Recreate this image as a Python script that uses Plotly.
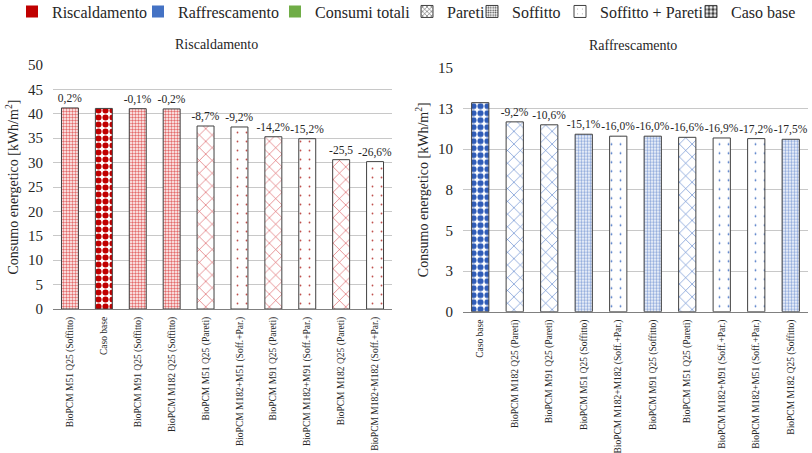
import plotly.graph_objects as go

# ---------------- data ----------------
heat_categories = [
    "BioPCM M51 Q25 (Soffitto)", "Caso base", "BioPCM M91 Q25 (Soffitto)",
    "BioPCM M182 Q25 (Soffitto)", "BioPCM M51 Q25 (Pareti)", "BioPCM M182+M51 (Soff.+Par.)",
    "BioPCM M91 Q25 (Pareti)", "BioPCM M182+M91 (Soff.+Par.)", "BioPCM M182 Q25 (Pareti)",
    "BioPCM M182+M182 (Soff.+Par.)",
]
heat_values = [41.2, 41.1, 41.05, 41.0, 37.5, 37.3, 35.3, 34.9, 30.6, 30.2]
heat_labels = ["0,2%", "", "-0,1%", "-0,2%", "-8,7%", "-9,2%", "-14,2%", "-15,2%", "-25,5", "-26,6%"]
heat_groups = ["Soffitto", "Caso base", "Soffitto", "Soffitto", "Pareti", "Soffitto + Pareti",
               "Pareti", "Soffitto + Pareti", "Pareti", "Soffitto + Pareti"]

cool_categories = [
    "Caso base", "BioPCM M182 Q25 (Pareti)", "BioPCM M91 Q25 (Pareti)",
    "BioPCM M51 Q25 (Soffitto)", "BioPCM M182+M182 (Soff.+Par.)", "BioPCM M91 Q25 (Soffitto)",
    "BioPCM M51 Q25 (Pareti)", "BioPCM M182+M91 (Soff.+Par.)", "BioPCM M182+M51 (Soff.+Par.)",
    "BioPCM M182 Q25 (Soffitto)",
]
cool_values = [12.85, 11.67, 11.49, 10.91, 10.79, 10.79, 10.72, 10.68, 10.64, 10.60]
cool_labels = ["", "-9,2%", "-10,6%", "-15,1%", "-16,0%", "-16,0%", "-16,6%", "-16,9%", "-17,2%", "-17,5%"]
cool_groups = ["Caso base", "Pareti", "Pareti", "Soffitto", "Soffitto + Pareti", "Soffitto",
               "Pareti", "Soffitto + Pareti", "Soffitto + Pareti", "Soffitto"]

left_ticks = [0, 5, 10, 15, 20, 25, 30, 35, 40, 45, 50]
right_tickvals = [0, 2.5, 5, 7.5, 10, 12.5, 15]
right_ticktext = ["0", "3", "5", "8", "10", "13", "15"]

color_legend = ["Riscaldamento", "Raffrescamento", "Consumi totali"]
pattern_legend = ["Pareti", "Soffitto", "Soffitto + Pareti", "Caso base"]

# ---------------- styles ----------------
FONT = '"Liberation Serif", "Times New Roman", Tinos, "DejaVu Serif", serif'
W, H = 812, 453
LINE = "#404040"

heat_style = {
    "Soffitto": dict(shape=".", size=3, solidity=0.5, fg="#E46C6C"),
    "Pareti": dict(shape="x", size=9, solidity=0.12, fg="#D43F45"),
    "Soffitto + Pareti": dict(shape=".", size=9, solidity=0.03, fg="#C0504D"),
    "Caso base": dict(shape=".", size=7, solidity=0.6, fg="#C00000"),
}
cool_style = {
    "Soffitto": dict(shape=".", size=3, solidity=0.5, fg="#8EA9DB"),
    "Pareti": dict(shape="x", size=9, solidity=0.12, fg="#4472C4"),
    "Soffitto + Pareti": dict(shape=".", size=9, solidity=0.03, fg="#4472C4"),
    "Caso base": dict(shape=".", size=7, solidity=0.6, fg="#2F5CB8"),
}


def pattern_for(groups, style):
    return dict(
        shape=[style[g]["shape"] for g in groups],
        size=[style[g]["size"] for g in groups],
        solidity=[style[g]["solidity"] for g in groups],
        fgcolor=[style[g]["fg"] for g in groups],
        bgcolor="white",
        fillmode="replace",
    )


fig = go.Figure()

fig.add_trace(go.Bar(
    x=heat_categories, y=heat_values, text=heat_labels, textposition="outside",
    textangle=0, constraintext="none", cliponaxis=False,
    textfont=dict(family=FONT, size=11.5, color="#262626"),
    marker=dict(color="white", line=dict(color=LINE, width=1),
                pattern=pattern_for(heat_groups, heat_style)),
    showlegend=False, xaxis="x", yaxis="y", hoverinfo="x+y",
))
fig.add_trace(go.Bar(
    x=cool_categories, y=cool_values, text=cool_labels, textposition="outside",
    textangle=0, constraintext="none", cliponaxis=False,
    textfont=dict(family=FONT, size=11.5, color="#262626"),
    marker=dict(color="white", line=dict(color=LINE, width=1),
                pattern=pattern_for(cool_groups, cool_style)),
    showlegend=False, xaxis="x2", yaxis="y2", hoverinfo="x+y",
))

# legend entries (dummy traces)
legend_colors = {"Riscaldamento": "#C00000", "Raffrescamento": "#4472C4", "Consumi totali": "#70AD47"}
legend_widths = {"Riscaldamento": 81, "Raffrescamento": 92, "Consumi totali": 87,
                 "Pareti": 20, "Soffitto": 43, "Soffitto + Pareti": 86, "Caso base": 60}
legend_patterns = {
    "Pareti": dict(shape="x", size=4, solidity=0.3),
    "Soffitto": dict(shape=".", size=3, solidity=0.4),
    "Soffitto + Pareti": dict(shape=".", size=6, solidity=0.02),
    "Caso base": dict(shape=".", size=5, solidity=0.6),
}
for name in color_legend:
    fig.add_trace(go.Bar(
        x=[None], y=[None], name=name, legendwidth=legend_widths[name],
        marker=dict(color=legend_colors[name], line=dict(width=0)),
        xaxis="x", yaxis="y",
    ))
for name in pattern_legend:
    p = legend_patterns[name]
    fig.add_trace(go.Bar(
        x=[None], y=[None], name=name, legendwidth=legend_widths[name],
        marker=dict(color="white", line=dict(color=LINE, width=1),
                    pattern=dict(shape=p["shape"], size=p["size"], solidity=p["solidity"],
                                 fgcolor=LINE, bgcolor="white", fillmode="replace")),
        xaxis="x", yaxis="y",
    ))

axis_font = dict(family=FONT, size=15, color="#262626")
cat_font = dict(family=FONT, size=9.5, color="#262626")
title_font = dict(family=FONT, size=14, color="#262626")
GRID = "#C8C8C8"

left_dom_x = [53 / W, 392 / W]
right_dom_x = [463 / W, 808 / W]
left_dom_y = [(H - 309) / H, (H - 65) / H]
right_dom_y = [(H - 311.7) / H, (H - 67.7) / H]

fig.update_layout(
    width=W, height=H,
    margin=dict(l=0, r=0, t=0, b=0, autoexpand=False),
    paper_bgcolor="white", plot_bgcolor="white",
    font=dict(family=FONT, color="#262626"),
    barmode="group", bargap=0.5,
    showlegend=True,
    legend=dict(orientation="h", x=12 / W, xanchor="left", y=1.012, yanchor="top",
                font=dict(family=FONT, size=16, color="#262626"),
                itemwidth=30, bgcolor="rgba(0,0,0,0)", traceorder="normal"),
    xaxis=dict(domain=left_dom_x, anchor="y", type="category", tickangle=-90,
               tickfont=cat_font, showgrid=False, showline=True, linecolor="#808080",
               linewidth=1, ticks="", ticklabelstandoff=3, automargin=False),
    yaxis=dict(domain=left_dom_y, anchor="x", range=[0, 50], tickvals=left_ticks,
               tickfont=axis_font, showgrid=True, gridcolor=GRID, gridwidth=1,
               zeroline=False, showline=False, ticks="", ticklabelstandoff=9,
               title=dict(text="Consumo energetico [kWh/m<sup>2</sup>]", font=title_font, standoff=6),
               automargin=False),
    xaxis2=dict(domain=right_dom_x, anchor="y2", type="category", tickangle=-90,
                tickfont=cat_font, showgrid=False, showline=True, linecolor="#808080",
                linewidth=1, ticks="", ticklabelstandoff=3, automargin=False),
    yaxis2=dict(domain=right_dom_y, anchor="x2", range=[0, 15], tickvals=right_tickvals,
                ticktext=right_ticktext, tickfont=axis_font, showgrid=True, gridcolor=GRID,
                gridwidth=1, zeroline=False, showline=False, ticks="", ticklabelstandoff=9,
                title=dict(text="Consumo energetico [kWh/m<sup>2</sup>]", font=title_font, standoff=6),
                automargin=False),
    annotations=[
        dict(text="Riscaldamento", xref="paper", yref="paper", x=216 / W, y=1 - 45 / H,
             xanchor="center", yanchor="middle", showarrow=False, font=title_font),
        dict(text="Raffrescamento", xref="paper", yref="paper", x=633 / W, y=1 - 46 / H,
             xanchor="center", yanchor="middle", showarrow=False, font=title_font),
    ],
)

fig.write_html("out.html", config={"displayModeBar": False},
               post_script="document.body.style.margin='0px';")
